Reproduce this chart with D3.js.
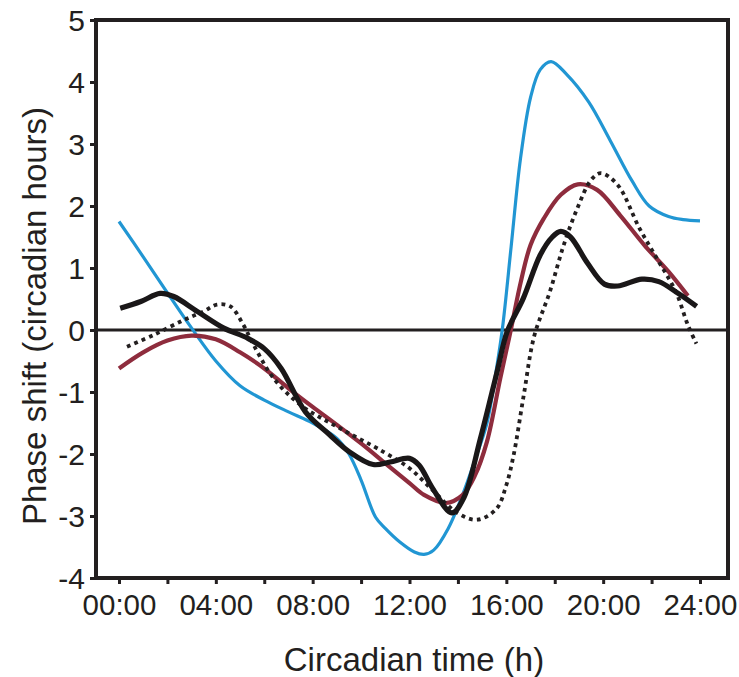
<!DOCTYPE html>
<html><head><meta charset="utf-8">
<script src="https://cdn.jsdelivr.net/npm/d3@7"></script>
<style>
html,body{margin:0;padding:0;background:#fff;}
text{font-family:"Liberation Sans",Arial,sans-serif;fill:#231f20;}
</style></head>
<body>
<svg id="chart" width="739" height="677"></svg>
<script>
// ---- data (hours, phase shift) ----
const xTickHours = [0,2,4,6,8,10,12,14,16,18,20,22,24];
const xTickLabels = ["00:00","","04:00","","08:00","","12:00","","16:00","","20:00","","24:00"];
const yTicks = [5,4,3,2,1,0,-1,-2,-3,-4];

const blueX = [0,1,2,3,4,5,6,7,8,9,9.5,10,10.6,11,11.6,12.2,12.6,13,13.6,14.2,14.7,15.2,15.5,15.83,16.2,16.58,17.0,17.4,17.85,18.5,19.4,20.3,21.2,21.9,22.7,23.3,24];
const blueY = [1.75,1.18,0.6,0.03,-0.5,-0.9,-1.13,-1.32,-1.5,-1.75,-2.0,-2.42,-3.02,-3.2,-3.42,-3.58,-3.62,-3.55,-3.2,-2.65,-2.1,-1.5,-0.85,0,1.35,2.75,3.75,4.2,4.33,4.12,3.68,3.05,2.4,2.0,1.83,1.78,1.76];

const redX = [0,1,2,3,4,5,6,7,8,9,10,11,12,12.6,13.5,14.2,14.7,15.2,15.75,16.2,16.6,17.0,17.55,18.25,18.95,19.75,20.7,21.7,22.7,23.5];
const redY = [-0.62,-0.36,-0.17,-0.09,-0.15,-0.36,-0.62,-0.94,-1.24,-1.53,-1.83,-2.15,-2.47,-2.66,-2.79,-2.66,-2.35,-1.8,-0.78,0.03,0.78,1.37,1.8,2.18,2.35,2.26,1.85,1.37,0.94,0.55];

const dotX = [0.33,1.43,2.67,3.5,4.05,4.6,5.14,5.56,6.39,7.5,9.1,10.9,12,13,13.97,14.8,15.6,16.0,16.3,16.72,17.15,17.8,18.37,18.93,19.5,19.9,20.6,21.5,22.3,23,23.5,23.85];
const dotY = [-0.27,-0.08,0.16,0.3,0.41,0.38,0.08,-0.24,-0.78,-1.21,-1.58,-1.96,-2.23,-2.6,-2.95,-3.06,-2.88,-2.5,-2.02,-1.05,-0.1,0.62,1.37,1.96,2.42,2.53,2.34,1.64,1.1,0.62,0.08,-0.22];

const blackX = [0.05,0.9,1.7,2.26,3.23,4.33,5.3,6.0,6.7,7.7,8.7,9.5,10.5,11.2,12,12.4,12.95,13.75,14.24,14.93,15.62,16.03,16.7,17.4,17.9,18.25,18.65,19.35,20.05,20.6,21.6,22.3,23.1,23.86];
const blackY = [0.35,0.46,0.59,0.54,0.3,0.03,-0.13,-0.3,-0.62,-1.32,-1.69,-1.96,-2.17,-2.13,-2.07,-2.18,-2.55,-2.95,-2.71,-1.75,-0.67,-0.03,0.51,1.21,1.5,1.59,1.5,1.08,0.74,0.71,0.82,0.78,0.59,0.38];

const series = [
  {x: blueX, y: blueY, color: "#2196d3", width: 3.2, dash: null},
  {x: redX, y: redY, color: "#8e2c3d", width: 4.2, dash: null},
  {x: dotX, y: dotY, color: "#231f20", width: 3.8, dash: "3.8,4.2"},
  {x: blackX, y: blackY, color: "#1a1718", width: 5.2, dash: null}
];

// ---- layout ----
const svg = d3.select("#chart");
const frame = {left: 96, right: 728, top: 20, bottom: 578};
const x = d3.scaleLinear().domain([0, 24]).range([119, 700]);
const y = d3.scaleLinear().domain([-4, 5]).range([frame.bottom, frame.top]);

// y axis
const yAxis = d3.axisLeft(y).tickValues(yTicks).tickSize(6).tickPadding(5).tickFormat(d => String(d));
const gy = svg.append("g").attr("transform", `translate(${frame.left},0)`).call(yAxis);
gy.select(".domain").remove();
gy.selectAll(".tick line").attr("stroke", "#231f20").attr("stroke-width", 3);
gy.selectAll(".tick text").attr("font-size", 30).attr("fill", "#231f20").attr("dy", "0.36em")
  .style("font-family", '"Liberation Sans",Arial,sans-serif');

// x axis
const xAxis = d3.axisBottom(x).tickValues(xTickHours).tickSize(6).tickPadding(10)
  .tickFormat((d, i) => xTickLabels[i]);
const gx = svg.append("g").attr("transform", `translate(0,${frame.bottom})`).call(xAxis);
gx.select(".domain").remove();
gx.selectAll(".tick line").attr("stroke", "#231f20").attr("stroke-width", 3);
gx.selectAll(".tick text").attr("font-size", 29.5).attr("fill", "#231f20")
  .style("font-family", '"Liberation Sans",Arial,sans-serif');

// frame
svg.append("rect")
  .attr("x", frame.left).attr("y", frame.top)
  .attr("width", frame.right - frame.left).attr("height", frame.bottom - frame.top)
  .attr("fill", "none").attr("stroke", "#231f20").attr("stroke-width", 4);

// zero line
svg.append("line")
  .attr("x1", frame.left).attr("x2", frame.right)
  .attr("y1", y(0)).attr("y2", y(0))
  .attr("stroke", "#231f20").attr("stroke-width", 3);

// series
const line = d3.line().x(d => x(d[0])).y(d => y(d[1])).curve(d3.curveCatmullRom.alpha(0.5));
series.forEach(s => {
  const pts = s.x.map((v, i) => [v, s.y[i]]);
  svg.append("path").datum(pts)
    .attr("d", line)
    .attr("fill", "none")
    .attr("stroke", s.color)
    .attr("stroke-width", s.width)
    .attr("stroke-linejoin", "round")
    .attr("stroke-dasharray", s.dash);
});

// titles
svg.append("text")
  .attr("x", 414).attr("y", 671)
  .attr("text-anchor", "middle").attr("font-size", 33)
  .text("Circadian time (h)");
svg.append("text")
  .attr("transform", "translate(46,316) rotate(-90)")
  .attr("text-anchor", "middle").attr("font-size", 33)
  .text("Phase shift (circadian hours)");
</script>
</body></html>
